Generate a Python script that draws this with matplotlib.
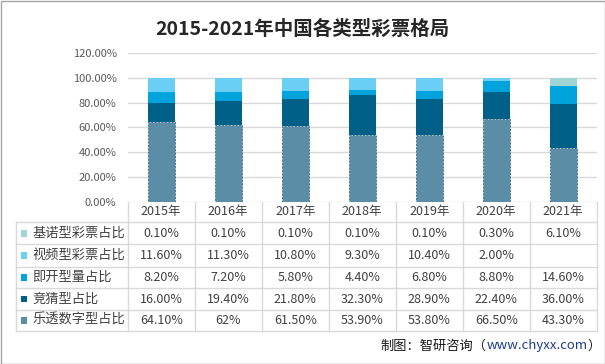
import numpy as np
import matplotlib
matplotlib.use("Agg")
import matplotlib.pyplot as plt
from matplotlib import transforms
from matplotlib.lines import Line2D
from matplotlib.patches import Rectangle

plt.rcParams['font.family'] = ['Noto Sans CJK SC', 'DejaVu Sans']

years = ["2015年", "2016年", "2017年", "2018年", "2019年", "2020年", "2021年"]
series_names = ["乐透数字型占比", "竞猜型占比", "即开型量占比", "视频型彩票占比", "基诺型彩票占比"]
letou = [64.1, 62.0, 61.5, 53.9, 53.8, 66.5, 43.3]
jingcai = [16.0, 19.4, 21.8, 32.3, 28.9, 22.4, 36.0]
jikai = [8.2, 7.2, 5.8, 4.4, 6.8, 8.8, 14.6]
shipin = [11.6, 11.3, 10.8, 9.3, 10.4, 2.0, None]
jinuo = [0.1, 0.1, 0.1, 0.1, 0.1, 0.3, 6.1]
cell_text = {
    "乐透数字型占比": ["64.10%", "62%", "61.50%", "53.90%", "53.80%", "66.50%", "43.30%"],
}
colors = ["#5B8EA6", "#006087", "#00A3DB", "#6BCEF5", "#9FD5D3"]

W, H = 605, 364
fig = plt.figure(figsize=(W / 100, H / 100), dpi=100)
fig.patch.set_facecolor("white")

# plot area in pixels
px_l, px_r, px_t, px_b = 127.7, 596.7, 53.3, 201.5
ax = fig.add_axes([px_l / W, 1 - px_b / H, (px_r - px_l) / W, (px_b - px_t) / H])
ax.set_facecolor("none")
ax.set_xlim(-0.5, len(years) - 0.5)
ax.set_ylim(0, 1.2)
for s in ax.spines.values():
    s.set_visible(False)
yt = np.arange(0, 1.21, 0.2)
ax.set_yticks(yt)
ax.set_yticklabels([f"{v*100:.2f}%" for v in yt], fontsize=8, color="#595959")
ax.tick_params(axis="y", length=0, pad=8)
ax.set_xticks([])
ax.grid(axis="y", color="#D9D9D9", linewidth=1)
ax.set_axisbelow(True)

x = np.arange(len(years))
all_series = [letou, jingcai, jikai, shipin, jinuo]
bottom = np.zeros(len(years))
for i, (vals, col) in enumerate(zip(all_series, colors)):
    v = np.array([0 if a is None else a for a in vals], dtype=float) / 100
    if i == 0:
        ax.bar(x, v, 0.4, bottom=bottom, color=col, edgecolor="#4C7892",
               linewidth=0.7, linestyle=(0, (2, 1.5)), zorder=3)
    else:
        ax.bar(x, v, 0.4, bottom=bottom, color=col, linewidth=0, zorder=3)
    bottom += v

# overlay for table / texts, in pixel coordinates
ov = fig.add_axes([0, 0, 1, 1])
ov.set_xlim(0, W)
ov.set_ylim(H, 0)
ov.axis("off")
bt = transforms.blended_transform_factory(ax.transData, ov.transData)

grid_c = "#D9D9D9"
rows_y = [201.5, 222.3, 244.3, 266.5, 288.3, 310.0, 331.0]
tab_left = 16.0
for yy in rows_y[1:]:
    ov.add_line(Line2D([tab_left, px_r], [yy, yy], color=grid_c, lw=1))
ov.add_line(Line2D([tab_left, tab_left], [rows_y[1], rows_y[-1]], color=grid_c, lw=1))
for k in range(len(years) + 1):
    ax.plot([k - 0.5, k - 0.5], [rows_y[0], rows_y[-1]], transform=bt,
            color=grid_c, lw=1, clip_on=False)

txt_c = "#404040"
hdr_y = (rows_y[0] + rows_y[1]) / 2
for k, yr in enumerate(years):
    ax.text(k, hdr_y, yr, transform=bt, ha="center", va="center",
            fontsize=9, color=txt_c, clip_on=False)

def fmt(v):
    if v is None:
        return ""
    return f"{v:.2f}%"

table_rows = list(zip(series_names, all_series, colors))[::-1]
for r, (name, vals, col) in enumerate(table_rows):
    yc = (rows_y[r + 1] + rows_y[r + 2]) / 2
    ov.add_patch(Rectangle((20.5, yc - 3.2), 6.4, 6.4, color=col, lw=0))
    ov.text(32.5, yc, name, ha="left", va="center", fontsize=9.5, color=txt_c)
    labels = cell_text.get(name, [fmt(v) for v in vals])
    for k, lab in enumerate(labels):
        ax.text(k, yc, lab, transform=bt, ha="center", va="center",
                fontsize=9, color=txt_c, clip_on=False)

# title
fig.text(0.5, 1 - 29 / H, "2015-2021年中国各类型彩票格局", ha="center", va="center",
         fontsize=14, fontweight="bold", color="#262626")

# footer (right aligned)
t3 = ov.text(601, 346, "）", ha="right", va="center", fontsize=9.5, color="#1A1A1A")
t2 = ov.annotate("www.chyxx.com", xy=(0, 0.5), xycoords=t3, ha="right", va="center",
                 fontsize=9.5, color="#1F3C88")
ov.annotate("制图：智研咨询（", xy=(0, 0.5), xycoords=t2, ha="right", va="center",
            fontsize=9.5, color="#1A1A1A")

# figure border
ov.add_patch(Rectangle((0.5, 0.5), W - 1, H - 1, fill=False, edgecolor="#A6A6A6", lw=1))

fig.savefig("out.png", dpi=100, facecolor="white")
